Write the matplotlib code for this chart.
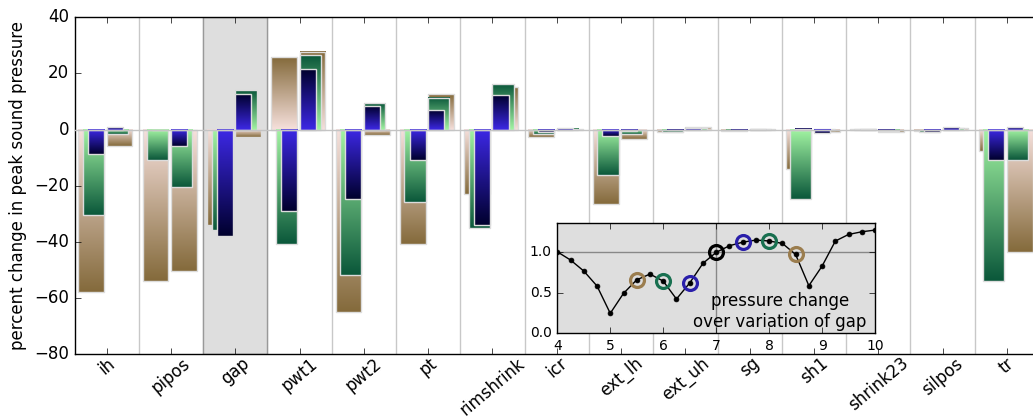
import numpy as np
import matplotlib
matplotlib.use("Agg")
import matplotlib.pyplot as plt
from matplotlib.colors import LinearSegmentedColormap

params = ["ih", "pipos", "gap", "pwt1", "pwt2", "pt", "rimshrink", "icr",
          "ext_lh", "ext_uh", "sg", "sh1", "shrink23", "silpos", "tr"]

# percent change in peak pressure, parameter decreased (left group)
dec_large = [-57.7, -53.9, -34.0, 25.9, -65.0, -40.8, -22.8, -2.8, -26.6, -0.8, -0.6, -13.9, 0.2, -0.5, -7.6]
dec_mid = [-30.5, -10.7, -35.6, -40.8, -51.7, -25.7, -34.9, -1.5, -16.2, -1.0, -0.3, -24.8, 0.3, -0.7, -53.9]
dec_small = [-8.8, 0.0, -37.9, -29.0, -24.7, -10.9, -34.0, -0.8, -2.2, -0.3, -0.2, 0.4, 0.1, -0.8, -10.8]
# parameter increased (right group)
inc_small = [1.0, -5.8, 12.6, 21.5, 8.5, 7.1, 12.4, 0.6, -0.6, 0.7, 0.2, -1.2, -0.2, 0.9, 1.0]
inc_mid = [-1.5, -20.5, 14.1, 26.4, 9.4, 11.4, 16.3, 0.4, -1.4, 0.5, 0.3, 0.3, -0.5, 0.7, -10.8]
inc_large = [-5.7, -50.2, -2.6, 27.8, -1.8, 12.7, 15.3, 0.2, -3.5, 0.9, 0.1, -0.9, -1.0, 0.7, -43.7]

# relative pressure over the gap sweep
gap_x = [4.0, 4.25, 4.5, 4.75, 5.0, 5.25, 5.5, 5.75, 6.0, 6.25, 6.5, 6.75, 7.0,
         7.25, 7.5, 7.75, 8.0, 8.25, 8.5, 8.75, 9.0, 9.25, 9.5, 9.75, 10.0]
gap_p = [1.007, 0.905, 0.769, 0.583, 0.245, 0.492, 0.66, 0.731, 0.644, 0.422, 0.621, 0.864, 1.0,
         1.082, 1.126, 1.152, 1.141, 1.111, 0.974, 0.587, 0.83, 1.14, 1.222, 1.255, 1.276]
marked = [5.5, 6.0, 6.5, 7.0, 7.5, 8.0, 8.5]

brown = ("#f7e1dd", "#846a3b")
green = ("#a3f5a3", "#0a573a")
blue = ("#3d28e6", "#00002d")
ring_colors = ["#9b7d4e", "#187050", "#2a1faa", "black", "#2a1faa", "#187050", "#9b7d4e"]

plt.style.use("classic")
fig = plt.figure(figsize=(10.33, 4.18), dpi=100, facecolor="white")
ax = fig.add_axes([0.0722, 0.1524, 0.9336, 0.8062])

x = np.arange(len(params))
grad = np.linspace(0, 1, 256).reshape(-1, 1)


def gradient_bars(left, heights, width, cols, z):
    cmap = LinearSegmentedColormap.from_list("g", list(cols))
    bars = ax.bar(left, heights, width, align="edge", facecolor="none",
                  edgecolor="#dcdcdc", linewidth=1, zorder=z)
    for b in bars:
        h = b.get_height()
        if h == 0:
            continue
        x0 = b.get_x()
        ax.imshow(grad, cmap=cmap, extent=(x0, x0 + b.get_width(), 0, h),
                  origin="lower", aspect="auto", interpolation="bilinear",
                  zorder=z - 0.01)
    return bars


for b in np.arange(0.5, len(params) - 1, 1.0):
    ax.axvline(b, color="#c8c8c8", lw=1, zorder=0.3)
ax.axvspan(1.5, 2.5, facecolor="#dedede", edgecolor="#999999", lw=1, zorder=0.4)

gradient_bars(x - 0.44, dec_large, 0.40, brown, 2)
gradient_bars(x - 0.37, dec_mid, 0.33, green, 3)
gradient_bars(x - 0.29, dec_small, 0.25, blue, 4)
gradient_bars(x, inc_large, 0.40, brown, 2)
gradient_bars(x, inc_mid, 0.33, green, 3)
gradient_bars(x, inc_small, 0.25, blue, 4)

ax.axhline(0, color="#c4c4c4", lw=1, zorder=5)

ax.set_xlim(-0.5, len(params) - 0.5)
ax.set_ylim(-80, 40)
ax.set_yticks(range(-80, 41, 20))
ax.set_xticks(x)
ax.set_xticklabels(params, rotation=40, ha="center")
ax.tick_params(direction="in", top=True, right=True, labelsize=12)
ax.tick_params(axis="x", pad=0)
ax.set_ylabel("percent change in peak sound pressure", fontsize=12)

ins = fig.add_axes([0.5395, 0.2031, 0.3076, 0.2627], facecolor="#dedede")
ins.axhline(1.0, color="#888888", lw=1, zorder=0)
ins.axvline(7.0, color="#888888", lw=1, zorder=0)
ins.plot(gap_x, gap_p, "k-", lw=1, marker="o", ms=3.5, mfc="k", mec="k")
for xv, c in zip(marked, ring_colors):
    ins.plot([xv], [gap_p[gap_x.index(xv)]], "o", mfc="none", mec=c, mew=2.3, ms=10)
ins.text(8.2, 0.03, "pressure change\nover variation of gap", ha="center",
         va="bottom", fontsize=12, multialignment="center")
ins.set_xlim(4, 10)
ins.set_ylim(0, 1.36)
ins.set_xticks(range(4, 11))
ins.set_yticks([0.0, 0.5, 1.0])
ins.tick_params(direction="in", top=True, right=True, labelsize=10)

fig.savefig("out.png", dpi=100, facecolor="white")
